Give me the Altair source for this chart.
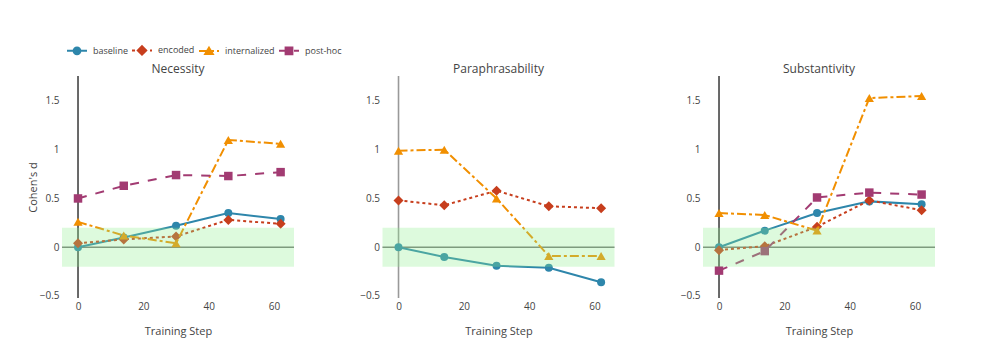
import altair as alt
import pandas as pd

# ---------------- data ----------------
STEPS = [0, 14, 30, 46, 62]
SERIES = ["baseline", "encoded", "internalized", "post-hoc"]
COLORS = ["#2E86AB", "#C73E1D", "#F18F01", "#A23B72"]
PANELS = ["Necessity", "Paraphrasability", "Substantivity"]

NEC_BASELINE = [0.00, 0.10, 0.22, 0.35, 0.29]
NEC_ENCODED = [0.04, 0.08, 0.11, 0.28, 0.24]
NEC_INTERNALIZED = [0.26, 0.12, 0.04, 1.10, 1.06]
NEC_POSTHOC = [0.50, 0.63, 0.74, 0.73, 0.77]

PAR_BASELINE = [0.00, -0.10, -0.19, -0.21, -0.36]
PAR_ENCODED = [0.48, 0.43, 0.58, 0.42, 0.40]
PAR_INTERNALIZED = [0.99, 1.00, 0.50, -0.09, -0.09]

SUB_BASELINE = [0.00, 0.17, 0.35, 0.47, 0.44]
SUB_ENCODED = [-0.03, 0.01, 0.21, 0.48, 0.38]
SUB_INTERNALIZED = [0.35, 0.33, 0.17, 1.53, 1.55]
SUB_POSTHOC = [-0.24, -0.04, 0.51, 0.56, 0.54]

PANEL_DATA = {
    "Necessity": {"baseline": NEC_BASELINE, "encoded": NEC_ENCODED,
                  "internalized": NEC_INTERNALIZED, "post-hoc": NEC_POSTHOC},
    "Paraphrasability": {"baseline": PAR_BASELINE, "encoded": PAR_ENCODED,
                         "internalized": PAR_INTERNALIZED},
    "Substantivity": {"baseline": SUB_BASELINE, "encoded": SUB_ENCODED,
                      "internalized": SUB_INTERNALIZED, "post-hoc": SUB_POSTHOC},
}

Y_TICKS = [-0.5, 0, 0.5, 1, 1.5]
X_TICKS = [0, 20, 40, 60]

# ---------------- styles ----------------
FONT = "Open Sans"
TXT = "#444444"
XD = [-4.9, 66.1]
YD = [-0.521, 1.756]
W, H = 232, 222

DASH = {"baseline": None, "encoded": [3, 3], "internalized": [9, 3, 3, 3], "post-hoc": [9, 9]}
SHAPE = {"baseline": "circle", "encoded": "diamond", "internalized": "triangle-up", "post-hoc": "square"}
SIZE = {"baseline": 64, "encoded": 100, "internalized": 85, "post-hoc": 72}
COLOR = dict(zip(SERIES, COLORS))

LEG_PATHS = [
    "M-1,0H1M-0.34,0A0.34,0.34,0,1,0,0.34,0A0.34,0.34,0,1,0,-0.34,0Z",
    "M-1,0H-0.7M-0.4,0H-0.1M0.2,0H0.5M0.8,0H1M0,-0.42L0.42,0L0,0.42L-0.42,0Z",
    "M-1,0H-0.1M0.2,0H0.5M0.8,0H1M0,-0.34L0.38,0.28L-0.38,0.28Z",
    "M-1,0H-0.1M0.5,0H1M-0.34,-0.34H0.34V0.34H-0.34Z",
]


def xenc(field):
    return alt.X(field, type="quantitative",
                 scale=alt.Scale(domain=XD, nice=False, zero=False),
                 axis=alt.Axis(values=X_TICKS, format="d", title="Training Step",
                               labelPadding=3, titlePadding=14))


def yenc(field, first):
    kw = dict(values=Y_TICKS, format=".2~f", labelPadding=3, minExtent=22, maxExtent=22)
    if first:
        kw.update(title="Cohen's d", titlePadding=2)
    else:
        kw.update(title=None)
    return alt.Y(field, type="quantitative",
                 scale=alt.Scale(domain=YD, nice=False, zero=False),
                 axis=alt.Axis(**kw))


def panel(name, first):
    layers = []
    # zero lines (below traces)
    vcol = "#999999" if name == "Paraphrasability" else "#444444"
    layers.append(alt.Chart().mark_rule(color=vcol, strokeWidth=1.6).encode(x=alt.X(datum=0)))
    layers.append(alt.Chart().mark_rule(color="#777777", strokeWidth=1.6).encode(y=alt.Y(datum=0)))
    for s, vals in PANEL_DATA[name].items():
        df = pd.DataFrame({"step": STEPS, "value": vals, "series": s})
        lkw = dict(color=COLOR[s], strokeWidth=2)
        if DASH[s] is not None:
            lkw["strokeDash"] = DASH[s]
        layers.append(alt.Chart(df).mark_line(**lkw).encode(x=xenc("step"), y=yenc("value", first)))
        layers.append(alt.Chart(df).mark_point(shape=SHAPE[s], filled=True, opacity=1,
                                               size=SIZE[s], color=COLOR[s], strokeWidth=0)
                      .encode(x=xenc("step"), y=yenc("value", first)))
    # green band (above traces)
    layers.append(alt.Chart().mark_rect(color="#90EE90", opacity=0.3)
                  .encode(y=alt.Y(datum=-0.2), y2=alt.Y2(datum=0.2)))
    if first:
        leg_df = pd.DataFrame({"series": SERIES})
        LEG = alt.Legend(title=None, orient="none", legendX=4, legendY=-37,
                         direction="horizontal", columns=4, symbolSize=400,
                         symbolStrokeWidth=2, labelFont=FONT, labelFontSize=9,
                         labelColor=TXT, labelOffset=5, columnPadding=0)
        layers.append(
            alt.Chart(leg_df).transform_filter("false")
            .mark_point(filled=True, opacity=1, size=400, strokeWidth=2)
            .encode(
                shape=alt.Shape("series:N", scale=alt.Scale(domain=SERIES, range=LEG_PATHS), legend=LEG),
                fill=alt.Fill("series:N", scale=alt.Scale(domain=SERIES, range=COLORS), legend=LEG),
                stroke=alt.Stroke("series:N", scale=alt.Scale(domain=SERIES, range=COLORS), legend=LEG),
            )
        )
    return alt.layer(*layers).properties(
        width=W, height=H,
        title=alt.TitleParams(name, font=FONT, fontSize=12, color=TXT,
                              fontWeight="normal", offset=-1, anchor="middle"),
    )


chart = alt.hconcat(*[panel(p, i == 0) for i, p in enumerate(PANELS)], spacing=64.5).properties(
    padding={"left": 19, "top": 31, "right": 5, "bottom": 5}
).configure_view(stroke=None).configure_axis(
    domain=False, ticks=False, gridColor="#ebebeb", gridWidth=1,
    labelFont=FONT, labelFontSize=10, labelColor=TXT,
    titleFont=FONT, titleFontSize=11, titleColor=TXT, titleFontWeight="normal",
)

chart.save("out.html", embed_options={"renderer": "svg", "actions": False})
